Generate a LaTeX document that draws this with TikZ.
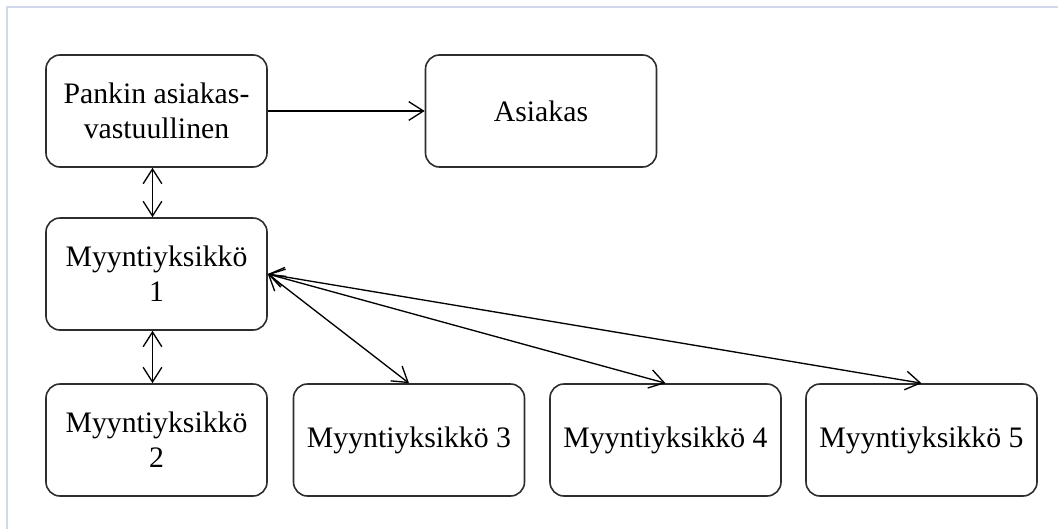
\documentclass[tikz,border=0pt]{standalone}
\usepackage{fontspec}
\setmainfont{Liberation Serif}
\usetikzlibrary{arrows.meta}
\definecolor{framecol}{RGB}{208,216,234}
\definecolor{boxcol}{RGB}{45,45,45}
\begin{document}
\begin{tikzpicture} [
    x=0.75pt, y=-0.75pt,
    nd/.style={draw=boxcol, line width=1.2pt, rounded corners=10.5pt,
      minimum width=165.75pt, minimum height=84pt, inner sep=0pt,
      align=center, font=\fontsize{22.3}{26.3}\selectfont},
    wd/.style={nd, minimum width=173.25pt},
    lnk/.style={draw, line width=1pt, -{Straight Barb[length=11pt,width=14pt]}},
    bi/.style={lnk, {Straight Barb[length=11pt,width=14pt]}-{Straight Barb[length=11pt,width=14pt]}},
    frm/.style={draw=framecol, line width=1.5pt}
  ]
  \useasboundingbox (0,0) rectangle (1058,529);
  \draw[frm] (7,529) -- (7,7) -- (1058,7);
  \node[nd] (pankki) at (156.5,111) {Pankin asiakas-\\vastuullinen};
  \node[wd] (asiakas) at (541,111) {Asiakas};
  \node[nd] (m1) at (156.5,274) {Myyntiyksikkö\\1};
  \node[nd] (m2) at (156.5,440) {Myyntiyksikkö\\2};
  \node[wd] (m3) at (409,440) {Myyntiyksikkö 3};
  \node[wd] (m4) at (665.5,440) {Myyntiyksikkö 4};
  \node[wd] (m5) at (921.5,440) {Myyntiyksikkö 5};
  \draw[lnk] (pankki) -- (asiakas);
  \draw[bi] ([xshift=-3pt]pankki.south) -- ([xshift=-3pt]m1.north);
  \draw[bi] ([xshift=-3pt]m1.south) -- ([xshift=-3pt]m2.north);
  \draw[bi] (m1.east) -- (m3.north);
  \draw[bi] (m1.east) -- (m4.north);
  \draw[bi] (m1.east) -- (m5.north);
\end{tikzpicture}
\end{document}
